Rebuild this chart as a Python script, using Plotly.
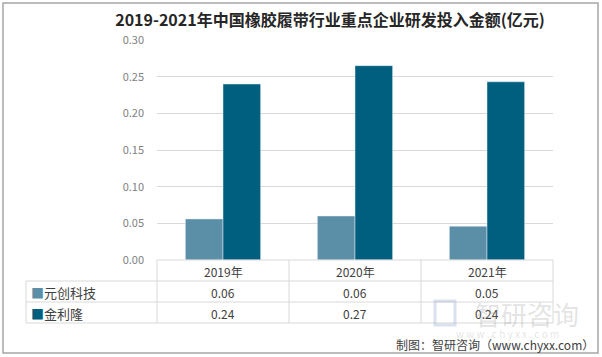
import plotly.graph_objects as go

years = ["2019年", "2020年", "2021年"]
series_names = ["元创科技", "金利隆"]
yuanchuang = [0.056, 0.060, 0.046]
jinlilong = [0.240, 0.265, 0.243]
labels_yc = ["0.06", "0.06", "0.05"]
labels_jl = ["0.24", "0.27", "0.24"]
y_ticks = [0.0, 0.05, 0.10, 0.15, 0.20, 0.25, 0.30]
colors = ["#5b8fa8", "#005f7f"]

W, H = 602, 357
L, R, T, B = 157, 49, 40, 97
ph = H - T - B  # plot height in px


def py(pix_y):
    return (H - B - pix_y) / ph


def px(pix_x):
    return (pix_x - L) / (W - L - R)


fig = go.Figure()
fig.add_trace(go.Bar(x=years, y=yuanchuang, name=series_names[0], marker_color=colors[0]))
fig.add_trace(go.Bar(x=years, y=jinlilong, name=series_names[1], marker_color=colors[1]))

font_fam = "Noto Sans CJK SC, Noto Sans, sans-serif"
grid = "#d9d9d9"

shapes = []
row_y = [260, 281, 302, 323]
for i, yy in enumerate(row_y):
    x0 = 157 if i == 0 else 26
    shapes.append(dict(type="line", xref="paper", yref="paper", x0=px(x0), x1=px(553),
                       y0=py(yy), y1=py(yy), line=dict(color=grid, width=1)))
for xx in [157, 289, 421, 553]:
    shapes.append(dict(type="line", xref="paper", yref="paper", x0=px(xx), x1=px(xx),
                       y0=py(260), y1=py(323), line=dict(color=grid, width=1)))
shapes.append(dict(type="line", xref="paper", yref="paper", x0=px(26), x1=px(26),
                   y0=py(281), y1=py(323), line=dict(color=grid, width=1)))
shapes.append(dict(type="rect", xref="paper", yref="paper", x0=px(3), x1=px(598),
                   y0=py(353), y1=py(3), line=dict(color="#a6a6a6", width=1.5)))

ann = []
txt_col = "#404040"


def txt(x, xref, y, text, size, color=txt_col, xanchor="center"):
    ann.append(dict(x=x, xref=xref, y=y, yref="paper", text=text, showarrow=False,
                    xanchor=xanchor, yanchor="middle",
                    font=dict(size=size, color=color, family=font_fam)))


for i, yr in enumerate(years):
    txt(yr, "x", py(271), yr, 12)
    txt(yr, "x", py(292), labels_yc[i], 12)
    txt(yr, "x", py(313), labels_jl[i], 12)
for j, (nm, rowy) in enumerate(zip(series_names, [292, 313])):
    txt(px(29), "paper", py(rowy), f"<span style='color:{colors[j]}'>■</span>{nm}", 13,
        xanchor="left")

# watermark
wm = "rgba(160,160,160,0.30)"
txt(px(527), "paper", py(313), "智研咨询", 26, color=wm)
txt(px(507), "paper", py(333), "w w w . c h y x x . c o m", 10, color=wm)
shapes.append(dict(type="rect", xref="paper", yref="paper", x0=px(435), x1=px(455),
                   y0=py(325), y1=py(301), line=dict(color="rgba(150,170,210,0.35)", width=3)))
# footer
txt(px(596), "paper", py(344), "制图：智研咨询（www.chyxx.com）", 12, xanchor="right")

fig.update_layout(
    width=W, height=H,
    margin=dict(l=L, r=R, t=T, b=B),
    paper_bgcolor="white", plot_bgcolor="white",
    title=dict(text="<b>2019-2021年中国橡胶履带行业重点企业研发投入金额(亿元)</b>",
               x=330 / W, xanchor="center", y=1 - 20 / H, yanchor="middle",
               font=dict(size=16, color="#262626", family=font_fam)),
    barmode="group", bargap=0.43, bargroupgap=0,
    showlegend=False,
    xaxis=dict(showticklabels=False, showline=False, showgrid=False, zeroline=False,
               ticks=""),
    yaxis=dict(range=[0, 0.30], tickvals=y_ticks, tickformat=".2f",
               showgrid=True, gridcolor=grid, gridwidth=1, zeroline=False, showline=False,
               ticks="", ticklabelstandoff=12,
               tickfont=dict(size=11, color="#7f7f7f", family=font_fam)),
    shapes=shapes, annotations=ann,
)

fig.write_html("out.html", config={"displayModeBar": False},
               post_script="document.body.style.margin='0';document.body.style.overflow='hidden';")
